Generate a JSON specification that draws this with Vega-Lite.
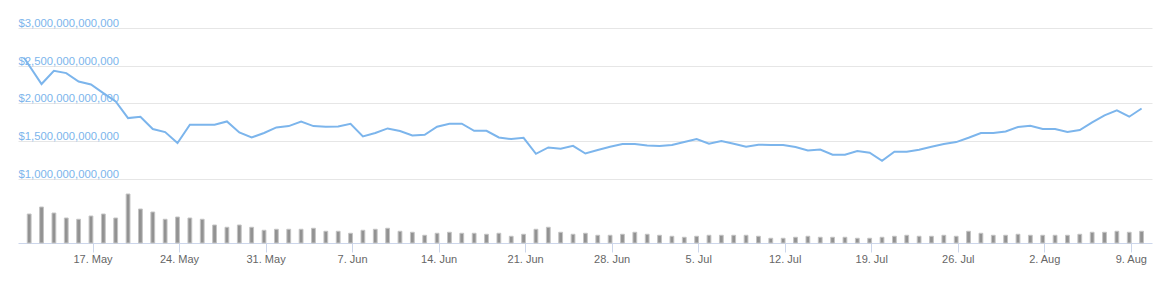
{
  "$schema": "https://vega.github.io/schema/vega-lite/v6.json",
  "width": 1134,
  "height": 215,
  "autosize": {"type": "none"},
  "padding": {"left": 18, "top": 28, "right": 20, "bottom": 42},
  "background": "#ffffff",
  "config": {
    "view": {"stroke": null},
    "font": "Liberation Sans"
  },
  "datasets": {
    "cap": [
      {"date": "2021-05-11T14:00:00Z", "marketCap": 2606000000000},
      {"date": "2021-05-13", "marketCap": 2258000000000},
      {"date": "2021-05-14", "marketCap": 2434000000000},
      {"date": "2021-05-15", "marketCap": 2403000000000},
      {"date": "2021-05-16", "marketCap": 2292000000000},
      {"date": "2021-05-17", "marketCap": 2252000000000},
      {"date": "2021-05-18", "marketCap": 2138000000000},
      {"date": "2021-05-19", "marketCap": 2027000000000},
      {"date": "2021-05-20", "marketCap": 1807000000000},
      {"date": "2021-05-21", "marketCap": 1825000000000},
      {"date": "2021-05-22", "marketCap": 1662000000000},
      {"date": "2021-05-23", "marketCap": 1622000000000},
      {"date": "2021-05-24", "marketCap": 1476000000000},
      {"date": "2021-05-25", "marketCap": 1719000000000},
      {"date": "2021-05-26", "marketCap": 1719000000000},
      {"date": "2021-05-27", "marketCap": 1719000000000},
      {"date": "2021-05-28", "marketCap": 1762000000000},
      {"date": "2021-05-29", "marketCap": 1617000000000},
      {"date": "2021-05-30", "marketCap": 1550000000000},
      {"date": "2021-05-31", "marketCap": 1609000000000},
      {"date": "2021-06-01", "marketCap": 1683000000000},
      {"date": "2021-06-02", "marketCap": 1701000000000},
      {"date": "2021-06-03", "marketCap": 1762000000000},
      {"date": "2021-06-04", "marketCap": 1701000000000},
      {"date": "2021-06-05", "marketCap": 1692000000000},
      {"date": "2021-06-06", "marketCap": 1696000000000},
      {"date": "2021-06-07", "marketCap": 1732000000000},
      {"date": "2021-06-08", "marketCap": 1564000000000},
      {"date": "2021-06-09", "marketCap": 1609000000000},
      {"date": "2021-06-10", "marketCap": 1670000000000},
      {"date": "2021-06-11", "marketCap": 1635000000000},
      {"date": "2021-06-12", "marketCap": 1577000000000},
      {"date": "2021-06-13", "marketCap": 1586000000000},
      {"date": "2021-06-14", "marketCap": 1692000000000},
      {"date": "2021-06-15", "marketCap": 1732000000000},
      {"date": "2021-06-16", "marketCap": 1732000000000},
      {"date": "2021-06-17", "marketCap": 1639000000000},
      {"date": "2021-06-18", "marketCap": 1639000000000},
      {"date": "2021-06-19", "marketCap": 1550000000000},
      {"date": "2021-06-20", "marketCap": 1529000000000},
      {"date": "2021-06-21", "marketCap": 1546000000000},
      {"date": "2021-06-22", "marketCap": 1334000000000},
      {"date": "2021-06-23", "marketCap": 1418000000000},
      {"date": "2021-06-24", "marketCap": 1401000000000},
      {"date": "2021-06-25", "marketCap": 1440000000000},
      {"date": "2021-06-26", "marketCap": 1338000000000},
      {"date": "2021-06-27", "marketCap": 1383000000000},
      {"date": "2021-06-28", "marketCap": 1427000000000},
      {"date": "2021-06-29", "marketCap": 1463000000000},
      {"date": "2021-06-30", "marketCap": 1463000000000},
      {"date": "2021-07-01", "marketCap": 1444000000000},
      {"date": "2021-07-02", "marketCap": 1436000000000},
      {"date": "2021-07-03", "marketCap": 1450000000000},
      {"date": "2021-07-04", "marketCap": 1489000000000},
      {"date": "2021-07-05", "marketCap": 1529000000000},
      {"date": "2021-07-06", "marketCap": 1467000000000},
      {"date": "2021-07-07", "marketCap": 1503000000000},
      {"date": "2021-07-08", "marketCap": 1467000000000},
      {"date": "2021-07-09", "marketCap": 1427000000000},
      {"date": "2021-07-10", "marketCap": 1454000000000},
      {"date": "2021-07-11", "marketCap": 1450000000000},
      {"date": "2021-07-12", "marketCap": 1450000000000},
      {"date": "2021-07-13", "marketCap": 1423000000000},
      {"date": "2021-07-14", "marketCap": 1378000000000},
      {"date": "2021-07-15", "marketCap": 1391000000000},
      {"date": "2021-07-16", "marketCap": 1321000000000},
      {"date": "2021-07-17", "marketCap": 1321000000000},
      {"date": "2021-07-18", "marketCap": 1370000000000},
      {"date": "2021-07-19", "marketCap": 1348000000000},
      {"date": "2021-07-20", "marketCap": 1242000000000},
      {"date": "2021-07-21", "marketCap": 1361000000000},
      {"date": "2021-07-22", "marketCap": 1361000000000},
      {"date": "2021-07-23", "marketCap": 1387000000000},
      {"date": "2021-07-24", "marketCap": 1427000000000},
      {"date": "2021-07-25", "marketCap": 1463000000000},
      {"date": "2021-07-26", "marketCap": 1489000000000},
      {"date": "2021-07-27", "marketCap": 1546000000000},
      {"date": "2021-07-28", "marketCap": 1609000000000},
      {"date": "2021-07-29", "marketCap": 1609000000000},
      {"date": "2021-07-30", "marketCap": 1630000000000},
      {"date": "2021-07-31", "marketCap": 1688000000000},
      {"date": "2021-08-01", "marketCap": 1705000000000},
      {"date": "2021-08-02", "marketCap": 1662000000000},
      {"date": "2021-08-03", "marketCap": 1662000000000},
      {"date": "2021-08-04", "marketCap": 1622000000000},
      {"date": "2021-08-05", "marketCap": 1648000000000},
      {"date": "2021-08-06", "marketCap": 1749000000000},
      {"date": "2021-08-07", "marketCap": 1842000000000},
      {"date": "2021-08-08", "marketCap": 1908000000000},
      {"date": "2021-08-09", "marketCap": 1825000000000},
      {"date": "2021-08-10", "marketCap": 1934000000000}
    ],
    "vol": [
      {"date": "2021-05-12", "volume": 232000000000},
      {"date": "2021-05-13", "volume": 288000000000},
      {"date": "2021-05-14", "volume": 240000000000},
      {"date": "2021-05-15", "volume": 200000000000},
      {"date": "2021-05-16", "volume": 190000000000},
      {"date": "2021-05-17", "volume": 216000000000},
      {"date": "2021-05-18", "volume": 232000000000},
      {"date": "2021-05-19", "volume": 200000000000},
      {"date": "2021-05-20", "volume": 392000000000},
      {"date": "2021-05-21", "volume": 272000000000},
      {"date": "2021-05-22", "volume": 248000000000},
      {"date": "2021-05-23", "volume": 190000000000},
      {"date": "2021-05-24", "volume": 208000000000},
      {"date": "2021-05-25", "volume": 200000000000},
      {"date": "2021-05-26", "volume": 190000000000},
      {"date": "2021-05-27", "volume": 144000000000},
      {"date": "2021-05-28", "volume": 126000000000},
      {"date": "2021-05-29", "volume": 144000000000},
      {"date": "2021-05-30", "volume": 126000000000},
      {"date": "2021-05-31", "volume": 102000000000},
      {"date": "2021-06-01", "volume": 110000000000},
      {"date": "2021-06-02", "volume": 110000000000},
      {"date": "2021-06-03", "volume": 110000000000},
      {"date": "2021-06-04", "volume": 118000000000},
      {"date": "2021-06-05", "volume": 94000000000},
      {"date": "2021-06-06", "volume": 94000000000},
      {"date": "2021-06-07", "volume": 78000000000},
      {"date": "2021-06-08", "volume": 102000000000},
      {"date": "2021-06-09", "volume": 110000000000},
      {"date": "2021-06-10", "volume": 118000000000},
      {"date": "2021-06-11", "volume": 94000000000},
      {"date": "2021-06-12", "volume": 86000000000},
      {"date": "2021-06-13", "volume": 62000000000},
      {"date": "2021-06-14", "volume": 78000000000},
      {"date": "2021-06-15", "volume": 86000000000},
      {"date": "2021-06-16", "volume": 78000000000},
      {"date": "2021-06-17", "volume": 78000000000},
      {"date": "2021-06-18", "volume": 70000000000},
      {"date": "2021-06-19", "volume": 78000000000},
      {"date": "2021-06-20", "volume": 54000000000},
      {"date": "2021-06-21", "volume": 70000000000},
      {"date": "2021-06-22", "volume": 110000000000},
      {"date": "2021-06-23", "volume": 126000000000},
      {"date": "2021-06-24", "volume": 86000000000},
      {"date": "2021-06-25", "volume": 70000000000},
      {"date": "2021-06-26", "volume": 78000000000},
      {"date": "2021-06-27", "volume": 62000000000},
      {"date": "2021-06-28", "volume": 62000000000},
      {"date": "2021-06-29", "volume": 70000000000},
      {"date": "2021-06-30", "volume": 86000000000},
      {"date": "2021-07-01", "volume": 70000000000},
      {"date": "2021-07-02", "volume": 62000000000},
      {"date": "2021-07-03", "volume": 54000000000},
      {"date": "2021-07-04", "volume": 46000000000},
      {"date": "2021-07-05", "volume": 54000000000},
      {"date": "2021-07-06", "volume": 62000000000},
      {"date": "2021-07-07", "volume": 62000000000},
      {"date": "2021-07-08", "volume": 62000000000},
      {"date": "2021-07-09", "volume": 62000000000},
      {"date": "2021-07-10", "volume": 54000000000},
      {"date": "2021-07-11", "volume": 38000000000},
      {"date": "2021-07-12", "volume": 38000000000},
      {"date": "2021-07-13", "volume": 46000000000},
      {"date": "2021-07-14", "volume": 54000000000},
      {"date": "2021-07-15", "volume": 46000000000},
      {"date": "2021-07-16", "volume": 46000000000},
      {"date": "2021-07-17", "volume": 46000000000},
      {"date": "2021-07-18", "volume": 38000000000},
      {"date": "2021-07-19", "volume": 38000000000},
      {"date": "2021-07-20", "volume": 46000000000},
      {"date": "2021-07-21", "volume": 54000000000},
      {"date": "2021-07-22", "volume": 62000000000},
      {"date": "2021-07-23", "volume": 54000000000},
      {"date": "2021-07-24", "volume": 54000000000},
      {"date": "2021-07-25", "volume": 62000000000},
      {"date": "2021-07-26", "volume": 54000000000},
      {"date": "2021-07-27", "volume": 94000000000},
      {"date": "2021-07-28", "volume": 78000000000},
      {"date": "2021-07-29", "volume": 62000000000},
      {"date": "2021-07-30", "volume": 62000000000},
      {"date": "2021-07-31", "volume": 70000000000},
      {"date": "2021-08-01", "volume": 62000000000},
      {"date": "2021-08-02", "volume": 62000000000},
      {"date": "2021-08-03", "volume": 62000000000},
      {"date": "2021-08-04", "volume": 62000000000},
      {"date": "2021-08-05", "volume": 70000000000},
      {"date": "2021-08-06", "volume": 86000000000},
      {"date": "2021-08-07", "volume": 86000000000},
      {"date": "2021-08-08", "volume": 94000000000},
      {"date": "2021-08-09", "volume": 86000000000},
      {"date": "2021-08-10", "volume": 94000000000}
    ]
  },
  "layer": [
    {
      "data": {"name": "vol"},
      "mark": {"type": "bar", "size": 3.8, "fill": "#929292", "stroke": "#c4c4c4", "strokeWidth": 1},
      "encoding": {
        "x": {
          "field": "date",
          "type": "temporal",
          "scale": {
            "type": "utc",
            "domain": [
              {"year": 2021, "month": 5, "date": 11, "hours": 12, "utc": true},
              {"year": 2021, "month": 8, "date": 10, "hours": 10, "minutes": 30, "utc": true}
            ],
            "nice": false
          },
          "axis": {
            "title": null,
            "values": [
              {"year": 2021, "month": 5, "date": 17, "hours": 3, "utc": true},
              {"year": 2021, "month": 5, "date": 24, "hours": 3, "utc": true},
              {"year": 2021, "month": 5, "date": 31, "hours": 3, "utc": true},
              {"year": 2021, "month": 6, "date": 7, "hours": 3, "utc": true},
              {"year": 2021, "month": 6, "date": 14, "hours": 3, "utc": true},
              {"year": 2021, "month": 6, "date": 21, "hours": 3, "utc": true},
              {"year": 2021, "month": 6, "date": 28, "hours": 3, "utc": true},
              {"year": 2021, "month": 7, "date": 5, "hours": 3, "utc": true},
              {"year": 2021, "month": 7, "date": 12, "hours": 3, "utc": true},
              {"year": 2021, "month": 7, "date": 19, "hours": 3, "utc": true},
              {"year": 2021, "month": 7, "date": 26, "hours": 3, "utc": true},
              {"year": 2021, "month": 8, "date": 2, "hours": 3, "utc": true},
              {"year": 2021, "month": 8, "date": 9, "hours": 3, "utc": true}
            ],
            "format": "%-d. %b",
            "grid": false,
            "domainColor": "#ccd6eb",
            "domainWidth": 1,
            "tickColor": "#ccd6eb",
            "tickSize": 9,
            "tickWidth": 1,
            "labelPadding": 1.3,
            "labelFont": "Liberation Sans",
            "labelFontSize": 11,
            "labelColor": "#666666",
            "labelFlush": false,
            "labelOverlap": false
          }
        },
        "y": {
          "field": "volume",
          "type": "quantitative",
          "scale": {"domain": [0, 1720000000000], "nice": false, "zero": true},
          "axis": null
        }
      }
    },
    {
      "data": {"name": "cap"},
      "mark": {"type": "line", "color": "#7cb5ec", "strokeWidth": 2, "interpolate": "linear"},
      "encoding": {
        "x": {"field": "date", "type": "temporal"},
        "y": {
          "field": "marketCap",
          "type": "quantitative",
          "scale": {"domain": [152300000000, 3000000000000], "nice": false, "zero": false},
          "axis": {
            "orient": "left",
            "title": null,
            "values": [1000000000000, 1500000000000, 2000000000000, 2500000000000, 3000000000000],
            "format": "$,.0f",
            "grid": true,
            "gridColor": "#e6e6e6",
            "gridWidth": 1,
            "domain": false,
            "ticks": false,
            "tickSize": 0,
            "labelAlign": "left",
            "labelBaseline": "alphabetic",
            "labelPadding": 0,
            "labelOffset": -1.5,
            "labelFont": "Liberation Sans",
            "labelFontSize": 11.3,
            "labelColor": "#7cb5ec",
            "labelOverlap": false,
            "labelFlush": false
          }
        }
      }
    }
  ],
  "resolve": {"scale": {"y": "independent"}}
}
